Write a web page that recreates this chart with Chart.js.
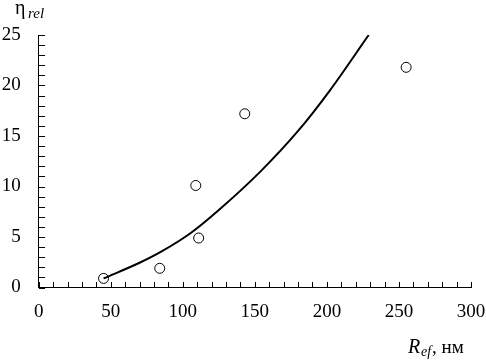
<!DOCTYPE html>
<html>
<head>
<meta charset="utf-8">
<script src="https://cdn.jsdelivr.net/npm/chart.js@4.4.1/dist/chart.umd.min.js"></script>
<style>
    html, body {margin: 0; padding: 0; background: #fff;}
    #wrap {width: 486px; height: 361px;}
</style>
</head>
<body>
<div id="wrap"><canvas id="chart"></canvas></div>
<script>
'use strict'

// measured points
let rEf = [45, 84, 109, 111, 143, 255],
    etaRel = [0.9, 1.9, 10.1, 4.9, 17.2, 21.8],
    // fitted curve
    fitX = [45, 70, 85, 106, 126, 154, 180, 202, 229],
    fitY = [0.9, 2.45, 3.55, 5.45, 7.8, 11.5, 15.5, 19.5, 25.0],
    xTicks = [0, 50, 100, 150, 200, 250, 300],
    yTicks = [0, 5, 10, 15, 20, 25],
    serif = '"Liberation Serif", "Times New Roman", serif'

let points = rEf.map((x, i) => ({x: x, y: etaRel[i]}))
let curve = fitX.map((x, i) => ({x: x, y: fitY[i]}))

// inward minor ticks + axis titles
let decor = {
    id: 'decor',
    afterDraw(chart) {
        let ctx = chart.ctx,
            xs = chart.scales.x,
            ys = chart.scales.y,
            bottom = Math.round(ys.getPixelForValue(0)),
            left = Math.round(xs.getPixelForValue(0))
        ctx.save()
        ctx.fillStyle = '#000'
        for (let v = 0; v <= 300; v += 10) {
            let px = Math.round(xs.getPixelForValue(v))
            ctx.fillRect(px, bottom - 6, 1, 6)
        }
        for (let v = 0; v <= 25; v += 1) {
            let py = Math.round(ys.getPixelForValue(v))
            ctx.fillRect(left, py, 6, 1)
        }

        ctx.textBaseline = 'alphabetic'
        ctx.textAlign = 'left'
        // y title
        ctx.font = '20px ' + serif
        ctx.fillText('η', 15, 14)
        ctx.font = 'italic 15px ' + serif
        ctx.fillText('rel', 28, 18)
        // x title
        ctx.font = 'italic 20px ' + serif
        ctx.fillText('R', 408, 353)
        ctx.font = 'italic 14px ' + serif
        ctx.fillText('ef', 421, 356)
        ctx.font = '19px ' + serif
        ctx.fillText(', нм', 432, 353)
        ctx.restore()
    }
}

let config = {
    type: 'scatter',
    data: {
        datasets: [{
            label: 'fit',
            type: 'line',
            data: curve,
            borderColor: '#000',
            borderWidth: 2,
            pointRadius: 0,
            fill: false,
            cubicInterpolationMode: 'monotone'
        }, {
            label: 'eta',
            data: points,
            pointStyle: 'circle',
            pointRadius: 5,
            pointBorderWidth: 1,
            pointBackgroundColor: '#fff',
            pointBorderColor: '#000'
        }]
    },
    options: {
        responsive: true,
        maintainAspectRatio: false,
        animation: false,
        events: [],
        layout: {padding: {top: 35, right: 0, left: 0, bottom: 0}},
        plugins: {
            legend: {display: false},
            tooltip: {enabled: false}
        },
        scales: {
            x: {
                type: 'linear',
                min: 0,
                max: 300,
                afterBuildTicks: s => { s.ticks = xTicks.map(v => ({value: v})) },
                afterFit: s => {
                    s.height = 73.5
                    s.paddingRight = 15
                    s.paddingLeft = 0
                },
                ticks: {
                    color: '#000',
                    font: {family: serif, size: 19},
                    padding: 13,
                    maxRotation: 0
                },
                grid: {display: false, drawTicks: false},
                border: {display: true, color: '#000', width: 1}
            },
            y: {
                min: 0,
                max: 25,
                afterBuildTicks: s => { s.ticks = yTicks.map(v => ({value: v})) },
                afterFit: s => {
                    s.width = 38.7
                    s.paddingTop = 0
                    s.paddingBottom = 0
                },
                ticks: {
                    color: '#000',
                    font: {family: serif, size: 19},
                    padding: 18
                },
                grid: {display: false, drawTicks: false},
                border: {display: true, color: '#000', width: 1}
            }
        }
    },
    plugins: [decor]
}

let myChart = new Chart(document.getElementById('chart'), config)
</script>
</body>
</html>
